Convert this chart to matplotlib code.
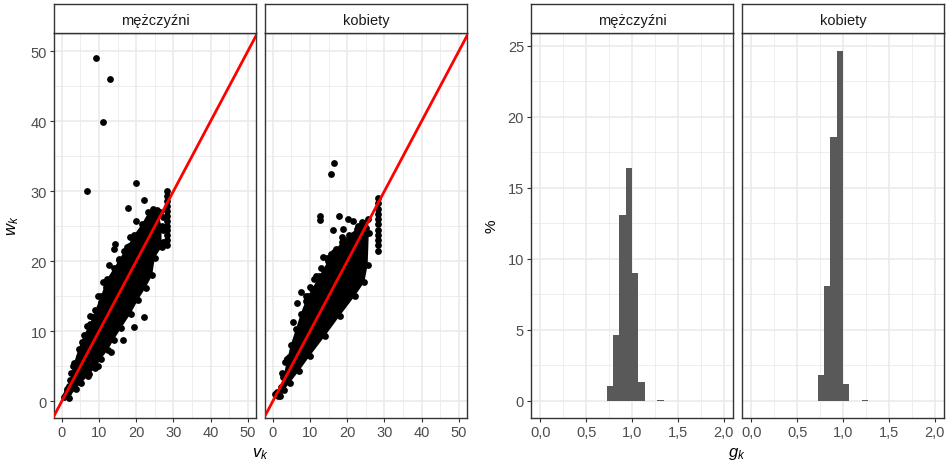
import matplotlib
matplotlib.use("Agg")
import matplotlib.pyplot as plt
from matplotlib.ticker import MultipleLocator, FuncFormatter

plt.rcParams['font.family'] = ['Liberation Sans', 'DejaVu Sans']
plt.rcParams['mathtext.fontset'] = 'custom'
plt.rcParams['mathtext.it'] = 'Liberation Sans:italic'
plt.rcParams['mathtext.rm'] = 'Liberation Sans'

facets = ['mężczyźni', 'kobiety']

# dense cloud outline (v_k, w_k)
men_core_x = [0.6, 2.0, 2.6, 3.3, 4.5, 6.0, 7.5, 9.0, 10.5, 12.2, 14.0, 15.5, 17.5, 19.5, 21.5, 23.3, 24.5,
              25.8, 26.8, 26.8, 25.0, 24.3, 22.5, 20.5, 18.5, 16.0, 14.0, 12.3, 10.5, 9.0, 7.0, 5.2, 3.8, 1.8]
men_core_y = [0.6, 2.2, 4.0, 5.5, 7.5, 9.5, 11.0, 13.0, 15.0, 17.5, 19.0, 20.3, 22.0, 23.8, 25.3, 27.0, 27.5,
              27.0, 25.0, 22.0, 20.5, 18.0, 16.2, 14.5, 12.5, 10.5, 8.8, 7.3, 6.0, 4.8, 3.6, 2.6, 1.8, 0.4]
men_x = [9.3, 12.9, 11.1, 6.7, 20.0, 22.1, 17.7, 20.0, 18.3, 14.3, 13.9, 16.6, 12.6, 15.5, 13.7, 11.0,
         9.6, 7.6, 6.9, 4.7, 22.1, 19.5, 16.4, 13.1, 9.6, 7.4, 1.5, 1.0, 1.3, 0.8, 1.6, 24.8, 19.5,
         28.4, 28.4, 28.4, 28.4, 28.4, 28.4, 28.4, 28.4, 28.4, 28.4, 28.4, 28.4,
         27.3, 27.3, 27.3, 26.5, 25.5, 24.0, 3.0, 2.2, 5.5, 8.3, 10.5, 3.8, 11.8, 15.0, 18.0]
men_y = [49.0, 46.1, 39.9, 30.0, 31.2, 28.8, 27.6, 25.7, 23.4, 22.5, 21.8, 21.5, 19.5, 20.2, 17.7, 17.1,
         15.1, 12.2, 10.8, 6.3, 12.0, 10.6, 8.8, 7.0, 5.1, 3.9, 1.8, 1.0, 1.5, 0.8, 1.2, 27.0, 14.4,
         22.3, 23.0, 23.7, 24.4, 25.1, 25.8, 26.5, 27.2, 27.9, 28.6, 29.3, 30.0,
         22.8, 24.5, 26.3, 27.0, 27.3, 26.8, 5.0, 3.0, 8.5, 12.0, 14.2, 3.0, 16.3, 19.0, 22.2]

women_core_x = [1.5, 2.2, 2.8, 3.9, 4.8, 6.2, 7.5, 8.8, 10.5, 12.5, 14.8, 16.5, 18.5, 20.5, 22.5, 24.0,
                25.5, 25.8, 25.5, 24.6, 22.0, 18.0, 14.0, 10.0, 7.0, 4.5, 3.0, 2.0]
women_core_y = [0.8, 2.0, 3.4, 6.0, 8.0, 10.3, 12.5, 14.3, 16.0, 17.9, 20.0, 21.3, 22.8, 23.8, 24.6, 25.6,
                26.0, 24.0, 19.5, 17.0, 15.0, 12.2, 9.3, 6.5, 4.3, 2.6, 1.6, 0.8]
women_x = [16.4, 15.7, 12.7, 12.7, 17.7, 20.2, 21.6, 16.1, 18.9, 13.6, 18.7, 18.9, 15.7, 16.1, 11.6,
           10.7, 16.1, 17.1, 6.6, 5.3, 11.2, 3.9, 1.2, 0.7, 1.6, 7.5, 8.8, 10.1,
           28.4, 28.4, 28.4, 28.4, 28.4, 28.4, 28.4, 28.4, 28.4, 28.4, 28.4,
           24.5, 25.0, 23.0, 3.4, 4.4, 2.6, 9.5, 13.0, 14.5]
women_y = [34.0, 32.4, 26.4, 25.9, 26.5, 26.1, 25.8, 24.4, 24.6, 20.6, 23.4, 22.5, 21.0, 19.9, 17.9,
           16.0, 19.0, 21.8, 14.1, 11.3, 17.5, 6.0, 1.3, 1.0, 1.3, 15.6, 15.1, 16.3,
           21.5, 22.3, 23.0, 23.8, 24.5, 25.3, 26.0, 26.8, 27.5, 28.3, 29.1,
           25.5, 24.8, 25.0, 5.6, 6.3, 4.0, 15.0, 19.0, 20.5]

# histogram of g_k, % per bin
bin_width = 0.069
men_bins = [0.724, 0.793, 0.862, 0.931, 1.0, 1.069, 1.276]
men_pct = [1.0, 4.6, 13.1, 16.4, 9.0, 1.3, 0.03]
women_bins = [0.724, 0.793, 0.862, 0.931, 1.0, 1.207]
women_pct = [1.8, 8.1, 18.6, 24.6, 1.2, 0.03]

W, H = 948, 464
fig = plt.figure(figsize=(W / 100, H / 100), dpi=100)

panel_left = [54, 265, 531, 742]
panel_w = 202
top_px, bottom_px, strip_top = 34, 419, 5

border = '#333333'
grid_c = '#EBEBEB'


def comma(v, pos):
    return f'{v:.1f}'.replace('.', ',')


axes = []
for i, lx in enumerate(panel_left):
    ax = fig.add_axes([lx / W, 1 - bottom_px / H, panel_w / W, (bottom_px - top_px) / H])
    st = fig.add_axes([lx / W, 1 - top_px / H, panel_w / W, (top_px - strip_top) / H])
    st.set_xticks([]); st.set_yticks([])
    for s in st.spines.values():
        s.set_color(border); s.set_linewidth(1.0)
    st.text(0.5, 0.45, facets[i % 2], ha='center', va='center', fontsize=10.5, color='#1A1A1A')
    for s in ax.spines.values():
        s.set_color(border); s.set_linewidth(1.0)
    ax.tick_params(which='major', length=3, width=0.8, color=border, labelsize=10.5,
                   labelcolor='#4D4D4D', pad=2)
    ax.tick_params(which='minor', length=0)
    ax.grid(which='major', color=grid_c, linewidth=1.2)
    ax.grid(which='minor', color=grid_c, linewidth=0.6)
    ax.set_axisbelow(True)
    axes.append(ax)

scatter_data = [(men_core_x, men_core_y, men_x, men_y),
                (women_core_x, women_core_y, women_x, women_y)]
for ax, (cx, cy, px, py) in zip(axes[:2], scatter_data):
    ax.fill(cx, cy, color='black', lw=0, zorder=2)
    ax.scatter(cx, cy, s=24, color='black', lw=0, zorder=2)
    ax.scatter(px, py, s=24, color='black', lw=0, zorder=2)
    ax.axline((0, 0), slope=1, color='red', lw=2.0, zorder=3)
    ax.set_xlim(-2.1, 52.2)
    ax.set_ylim(-2.4, 52.6)
    ax.xaxis.set_major_locator(MultipleLocator(10))
    ax.xaxis.set_minor_locator(MultipleLocator(5))
    ax.yaxis.set_major_locator(MultipleLocator(10))
    ax.yaxis.set_minor_locator(MultipleLocator(5))

hist_data = [(men_bins, men_pct), (women_bins, women_pct)]
for ax, (b, p) in zip(axes[2:], hist_data):
    ax.bar(b, p, width=bin_width, align='edge', color='#595959', lw=0, zorder=2)
    ax.set_xlim(-0.1, 2.1)
    ax.set_ylim(-1.23, 25.9)
    ax.xaxis.set_major_locator(MultipleLocator(0.5))
    ax.xaxis.set_minor_locator(MultipleLocator(0.25))
    ax.xaxis.set_major_formatter(FuncFormatter(comma))
    ax.yaxis.set_major_locator(MultipleLocator(5))
    ax.yaxis.set_minor_locator(MultipleLocator(2.5))

axes[1].tick_params(labelleft=False, left=False)
axes[3].tick_params(labelleft=False, left=False)

fig.text(260 / W, 1 - 454 / H, r'$v_k$', ha='center', va='center', fontsize=12)
fig.text(13 / W, 1 - 226 / H, r'$w_k$', ha='center', va='center', fontsize=12, rotation=90)
fig.text(737 / W, 1 - 454 / H, r'$g_k$', ha='center', va='center', fontsize=12)
fig.text(492 / W, 1 - 226 / H, '%', ha='center', va='center', fontsize=11, rotation=90)

fig.savefig('out.png', dpi=100)
